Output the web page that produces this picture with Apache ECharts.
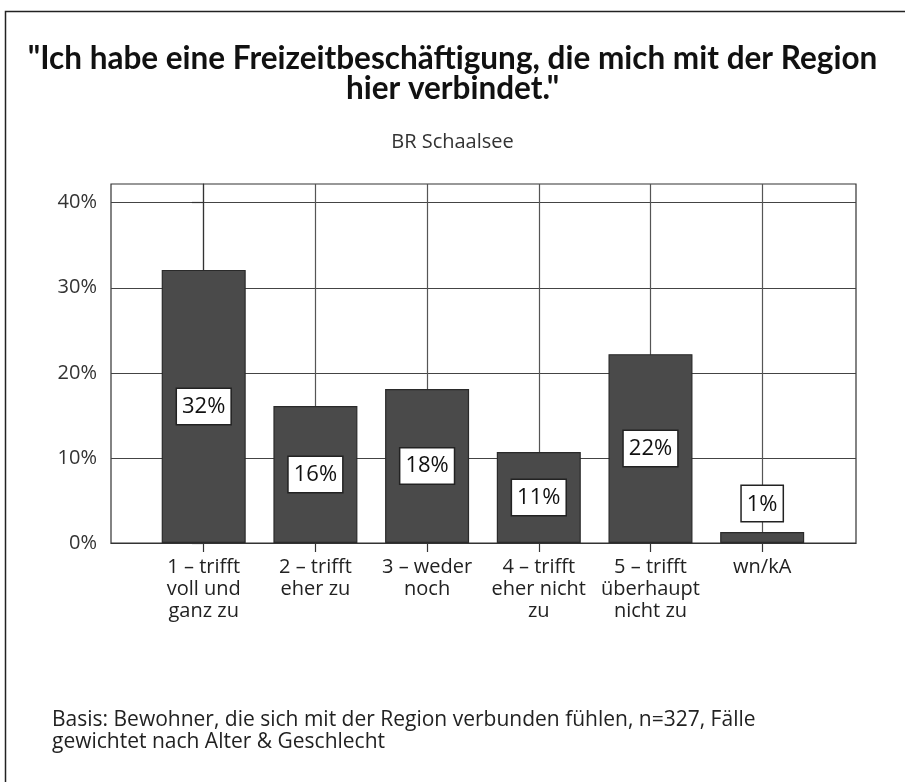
<!DOCTYPE html>
<html>
<head>
<meta charset="utf-8">
<script src="https://cdn.jsdelivr.net/npm/echarts@6/dist/echarts.min.js"></script>
<style>
  html, body { margin: 0; padding: 0; background: #fff; }
  #chart { width: 905px; height: 782px; }
</style>
</head>
<body>
<div id="chart"></div>
<script>
// Daten
var categories = [
  "1 – trifft\nvoll und\nganz zu",
  "2 – trifft\neher zu",
  "3 – weder\nnoch",
  "4 – trifft\neher nicht\nzu",
  "5 – trifft\nüberhaupt\nnicht zu",
  "wn/kA"
];
var values = [32.1, 16.1, 18.1, 10.7, 22.2, 1.3];
var yTicks = [0, 10, 20, 30, 40];

var titleText = '"Ich habe eine Freizeitbeschäftigung, die mich mit der Region\nhier verbindet."';
var subText = "BR Schaalsee";
var footText = "Basis: Bewohner, die sich mit der Region verbunden fühlen, n=327, Fälle\ngewichtet nach Alter & Geschlecht";

var font = "Open Sans";
var chart = echarts.init(document.getElementById("chart"));

var catIdx = categories.map(function (c, i) { return i; });
var barData = values.map(function (v, i) {
  var item = { value: [i, v] };
  if (v < 5) {
    // kleiner Balken: Label oberhalb
    item.label = { position: "top", distance: 11 };
  }
  return item;
});

chart.setOption({
  animation: false,
  graphic: [
    {
      type: "rect",
      shape: { x: 5.5, y: 11.5, width: 950, height: 850 },
      style: { fill: "none", stroke: "#222", lineWidth: 1.5 },
      silent: true
    },
    {
      type: "text",
      left: 52,
      top: 709,
      style: {
        text: footText,
        font: "21px '" + font + "'",
        fill: "#222",
        lineHeight: 22
      }
    }
  ],
  title: [
    {
      text: titleText,
      left: "center",
      top: 39,
      textStyle: {
        fontFamily: "Lato",
        fontWeight: "bold",
        fontSize: 31.5,
        lineHeight: 30,
        color: "#111"
      }
    },
    {
      text: subText,
      left: "center",
      top: 127,
      textStyle: {
        fontFamily: font,
        fontWeight: "normal",
        fontSize: 20,
        color: "#333"
      }
    }
  ],
  grid: {
    left: 111,
    top: 184,
    right: 49,
    bottom: 239,
    show: true,
    borderColor: "#333",
    borderWidth: 1.2,
    backgroundColor: "transparent"
  },
  xAxis: {
    type: "value",
    min: -0.83,
    max: 5.84,
    axisLine: { show: true, lineStyle: { color: "#333", width: 1.2 } },
    axisTick: {
      show: true,
      customValues: catIdx,
      length: 9,
      lineStyle: { color: "#333", width: 1.2 }
    },
    axisLabel: {
      customValues: catIdx,
      margin: 13,
      fontFamily: font,
      fontSize: 20,
      lineHeight: 22,
      color: "#222",
      verticalAlign: "top",
      formatter: function (v) { return categories[Math.round(v)]; }
    },
    splitLine: { show: true, lineStyle: { color: "#555", width: 1.2 } }
  },
  yAxis: {
    type: "value",
    min: 0,
    max: 42.2,
    interval: 10,
    axisLine: { show: true, lineStyle: { color: "#333", width: 1.2 } },
    axisTick: {
      show: true,
      customValues: yTicks,
      length: 12,
      lineStyle: { color: "#333", width: 1.2 }
    },
    axisLabel: {
      customValues: yTicks,
      margin: 14,
      fontFamily: font,
      fontSize: 20,
      color: "#333",
      formatter: function (v) { return v + "%"; }
    },
    splitLine: { show: true, lineStyle: { color: "#444", width: 1.2 } }
  },
  series: [
    {
      type: "bar",
      barWidth: 84,
      data: barData,
      itemStyle: {
        color: "#4a4a4a",
        borderColor: "#2a2a2a",
        borderWidth: 1.2
      },
      label: {
        show: true,
        position: "inside",
        fontFamily: font,
        fontSize: 22,
        fontWeight: 500,
        color: "#111",
        backgroundColor: "#fff",
        borderColor: "#222",
        borderWidth: 1.5,
        padding: [8, 5, 5, 5],
        formatter: function (p) { return Math.round(p.value[1]) + "%"; }
      }
    }
  ]
});
</script>
</body>
</html>
